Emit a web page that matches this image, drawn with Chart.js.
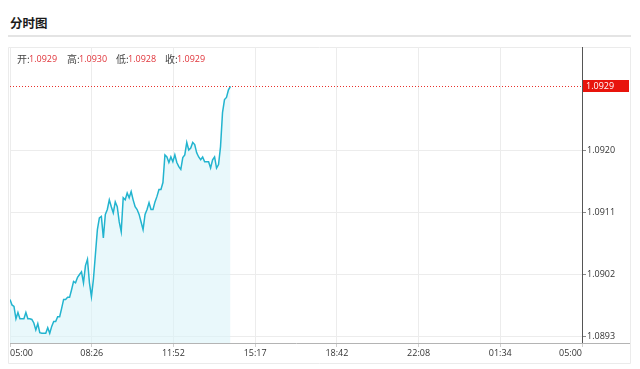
<!DOCTYPE html>
<html>
<head>
<meta charset="utf-8">
<script src="https://cdn.jsdelivr.net/npm/chart.js@4/dist/chart.umd.min.js"></script>
<style>
  html, body { margin: 0; padding: 0; background: #fff; }
  #wrap { position: relative; width: 640px; height: 369px; overflow: hidden; }
  #chart { position: absolute; left: 0; top: 0; }
  .title { position: absolute; left: 10px; top: 16px; font: bold 12.5px/14px "Noto Sans CJK SC", sans-serif; color: #1a1a1a; }
  .rule { position: absolute; left: 8px; top: 35px; width: 623px; height: 2px; background: #e4e4e4; }
  .lbl { position: absolute; top: 52px; font: 10px/13px "Noto Sans CJK SC", sans-serif; color: #444; }
  .val { position: absolute; top: 52px; font: 9px/13px "Open Sans", sans-serif; color: #e0343a; }
</style>
</head>
<body>
<div id="wrap">
  <div class="title">分时图</div>
  <div class="rule"></div>
  <canvas id="chart" width="640" height="369"></canvas>
  <div id="ohlc"></div>
</div>
<script>
// 开 / 高 / 低 / 收
var ohlcLabels = ['开:', '高:', '低:', '收:'];
var ohlcValues = ['1.0929', '1.0930', '1.0928', '1.0929'];

// x axis: minutes since 05:00, one point every 5 minutes
var minuteStep = 5;
var xTickLabels = ['05:00', '08:26', '11:52', '15:17', '18:42', '22:08', '01:34', '05:00'];
var yTicks = [1.0893, 1.0902, 1.0911, 1.0920];

// price
var prices = [
    1.08984, 1.08976, 1.08974, 1.08956, 1.08965, 1.08956, 1.08956, 1.08956, 1.08965, 1.08956,
    1.08956, 1.08955, 1.08950, 1.08940, 1.08949, 1.08936, 1.08935, 1.08935, 1.08935, 1.08943,
    1.08935, 1.08945, 1.08952, 1.08952, 1.08959, 1.08959, 1.08971, 1.08984, 1.08984, 1.08987,
    1.08987, 1.08998, 1.09010, 1.09008, 1.09016, 1.09020, 1.09024, 1.09008, 1.09033, 1.09042,
    1.09008, 1.08988, 1.09013, 1.09049, 1.09085, 1.09102, 1.09104, 1.09073, 1.09107, 1.09114,
    1.09128, 1.09118, 1.09109, 1.09125, 1.09118, 1.09096, 1.09082, 1.09131, 1.09128, 1.09138,
    1.09131, 1.09140, 1.09128, 1.09118, 1.09114, 1.09107, 1.09096, 1.09085, 1.09107, 1.09114,
    1.09124, 1.09114, 1.09114, 1.09125, 1.09133, 1.09143, 1.09143, 1.09153, 1.09193, 1.09190,
    1.09182, 1.09190, 1.09183, 1.09193, 1.09182, 1.09176, 1.09172, 1.09189, 1.09193, 1.09211,
    1.09200, 1.09203, 1.09211, 1.09208, 1.09196, 1.09190, 1.09186, 1.09190, 1.09183, 1.09183,
    1.09183, 1.09174, 1.09186, 1.09190, 1.09174, 1.09179, 1.09205, 1.09254, 1.09273, 1.09276,
    1.09287, 1.09292
];

// OHLC header
var ohlcX = [17, 67, 116, 165];
var ohlcValX = [29, 79, 128, 177];
var ohlc = document.getElementById('ohlc');
for (var i = 0; i < ohlcLabels.length; i++) {
    var l = document.createElement('span');
    l.className = 'lbl';
    l.style.left = ohlcX[i] + 'px';
    l.textContent = ohlcLabels[i];
    ohlc.appendChild(l);
    var v = document.createElement('span');
    v.className = 'val';
    v.style.left = ohlcValX[i] + 'px';
    v.textContent = ohlcValues[i];
    ohlc.appendChild(v);
}

var points = prices.map(function (p, i) { return { x: i * minuteStep, y: p }; });
var lastPrice = prices[prices.length - 1];

// frame, axis extension, last price marker
var decorPlugin = {
    id: 'decor',
    beforeDraw: function (chart) {
        var c = chart.ctx;
        c.save();
        c.strokeStyle = '#ebebeb';
        c.lineWidth = 1;
        c.beginPath();
        c.moveTo(8.5, 47.5); c.lineTo(630.5, 47.5);
        c.lineTo(630.5, 363.5); c.lineTo(8.5, 363.5); c.closePath();
        c.stroke();
        c.restore();
    },
    afterDraw: function (chart) {
        var c = chart.ctx;
        var a = chart.chartArea;
        var y = Math.round(chart.scales.y.getPixelForValue(lastPrice)) + 0.5;
        c.save();
        // x axis line runs on under the price scale
        c.strokeStyle = '#b4b4b4';
        c.lineWidth = 1;
        c.beginPath();
        c.moveTo(a.right, Math.round(a.bottom) + 0.5);
        c.lineTo(630, Math.round(a.bottom) + 0.5);
        c.stroke();
        // dotted last price line
        c.strokeStyle = '#e8322c';
        c.setLineDash([1, 2]);
        c.beginPath();
        c.moveTo(a.left, y);
        c.lineTo(a.right, y);
        c.stroke();
        c.setLineDash([]);
        // red price box
        c.fillStyle = '#e8140c';
        c.fillRect(a.right + 1, y - 6.5, 46, 12);
        c.fillStyle = '#fff';
        c.font = '9px "Open Sans", sans-serif';
        c.textBaseline = 'middle';
        c.fillText(lastPrice.toFixed(4), a.right + 4, y);
        c.restore();
    }
};

Chart.defaults.font.family = '"Open Sans", "Noto Sans", sans-serif';
Chart.defaults.font.size = 9;
Chart.defaults.color = '#333';

var ctx = document.getElementById('chart').getContext('2d');
var myChart = new Chart(ctx, {
    type: 'line',
    data: {
        datasets: [{
            data: points,
            borderColor: '#22b4cf',
            borderWidth: 1.5,
            backgroundColor: 'rgba(218, 244, 249, 0.6)',
            fill: 'start',
            pointRadius: 0,
            tension: 0
        }]
    },
    options: {
        responsive: false,
        animation: false,
        layout: { padding: { top: 47, left: 10, right: 10, bottom: 6 } },
        plugins: {
            legend: { display: false },
            tooltip: { enabled: false }
        },
        scales: {
            x: {
                type: 'linear',
                min: 0,
                max: 1440,
                afterBuildTicks: function (scale) {
                    scale.ticks = xTickLabels.map(function (_, i) { return { value: i * 1440 / 7 }; });
                },
                afterFit: function (scale) {
                    scale.height = 20;
                    scale.paddingLeft = 0;
                    scale.paddingRight = 0;
                },
                ticks: {
                    align: 'inner',
                    maxRotation: 0,
                    autoSkip: false,
                    padding: 1,
                    color: '#333',
                    callback: function (value, index) { return xTickLabels[index]; }
                },
                grid: { color: '#ececec', tickLength: 4, tickColor: '#cfcfcf' },
                border: { color: '#b4b4b4', width: 1 }
            },
            y: {
                position: 'right',
                min: 1.08921,
                max: 1.09349,
                afterBuildTicks: function (scale) {
                    scale.ticks = yTicks.map(function (v) { return { value: v }; });
                },
                afterFit: function (scale) {
                    scale.width = 48;
                },
                ticks: {
                    padding: 1,
                    color: '#333',
                    callback: function (value) { return value.toFixed(4); }
                },
                grid: { color: '#ececec', tickLength: 4, tickColor: '#888' },
                border: { color: '#555', width: 1 }
            }
        }
    },
    plugins: [decorPlugin]
});
</script>
</body>
</html>
